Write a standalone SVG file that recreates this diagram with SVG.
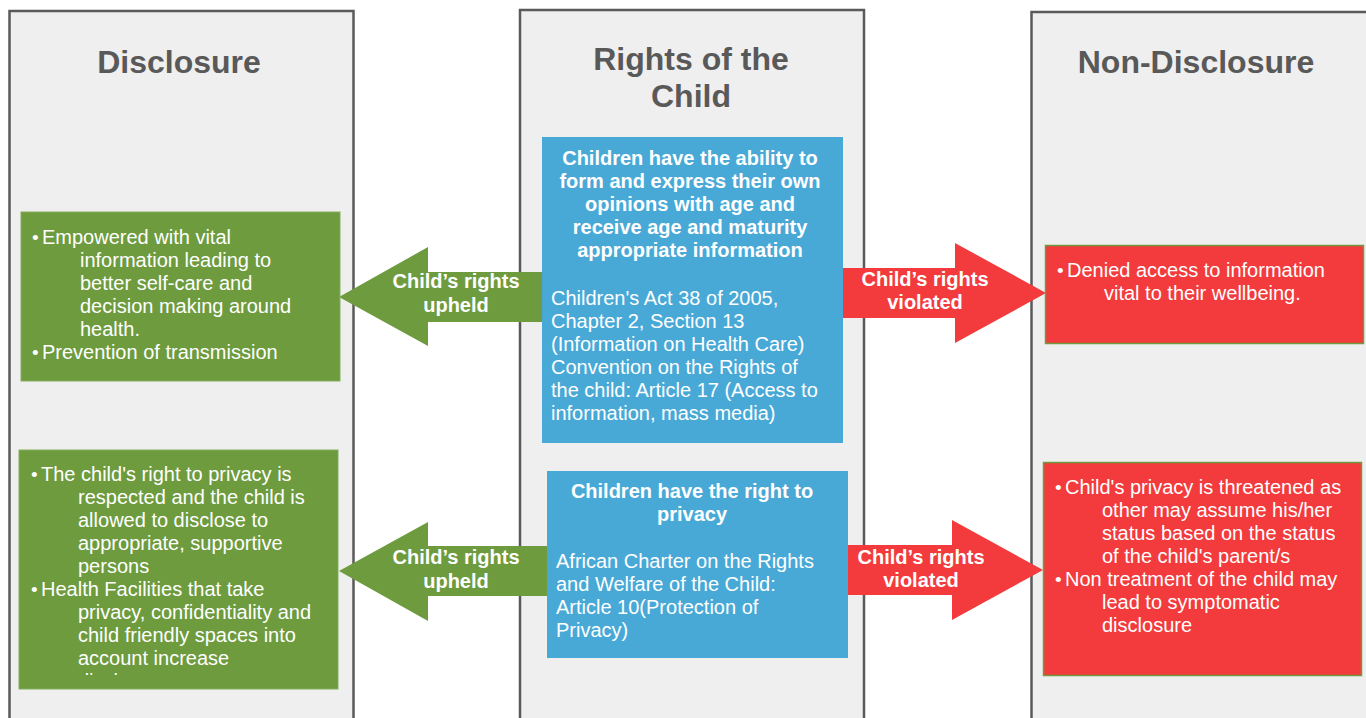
<svg xmlns="http://www.w3.org/2000/svg" width="1366" height="718" viewBox="0 0 1366 718">
<defs>
<style>
.col{fill:#efefef;stroke:#5a5a5a;stroke-width:2.5}
.title{font-family:"Liberation Sans",Arial,sans-serif;font-weight:bold;font-size:32px;fill:#595959;text-anchor:middle}
.green{fill:#6d9b3e;stroke:#85ad5c;stroke-width:1}
.blue{fill:#48a9d7}
.red{fill:#f33a3c;stroke:#6d9b3e;stroke-width:1.5}
.t{font-family:"Liberation Sans",Arial,sans-serif;font-size:20px;fill:#ffffff}
.dot{font-family:"Liberation Sans",Arial,sans-serif;font-size:19px;fill:#ffffff}
.b{font-family:"Liberation Sans",Arial,sans-serif;font-size:20px;font-weight:bold;fill:#ffffff;text-anchor:middle}
.ga{fill:#6d9b3e}
.ra{fill:#f33a3c}
</style>
<clipPath id="clipG2"><rect x="19" y="450" width="320" height="225"/></clipPath>
</defs>

<g id="col-disclosure">
<rect class="col" x="9.5" y="11" width="344" height="730"/>
<text class="title" x="179" y="73">Disclosure</text>
</g>
<g id="col-rights">
<rect class="col" x="520" y="10" width="344" height="730"/>
<text class="title" x="691" y="70">Rights of the</text>
<text class="title" x="691" y="107">Child</text>
</g>
<g id="col-nondisclosure">
<rect class="col" x="1031.5" y="12" width="360" height="730"/>
<text class="title" x="1196" y="73">Non-Disclosure</text>
</g>

<g id="connectors">
<g id="arrow-upheld-1">
<polygon class="ga" points="542,272 428,272 428,247 339,297 428,346 428,322 542,322"/>
<text class="b" x="456" y="288">Child’s rights</text>
<text class="b" x="456" y="312">upheld</text>
</g>
<g id="arrow-violated-1">
<polygon class="ra" points="843,268 955,268 955,243 1046,293 955,343 955,318 843,318"/>
<text class="b" x="925" y="286">Child’s rights</text>
<text class="b" x="925" y="309">violated</text>
</g>
<g id="arrow-upheld-2">
<polygon class="ga" points="547,546 428,546 428,522 339,571 428,621 428,596 547,596"/>
<text class="b" x="456" y="564">Child’s rights</text>
<text class="b" x="456" y="588">upheld</text>
</g>
<g id="arrow-violated-2">
<polygon class="ra" points="848,545 952,545 952,520 1043,570 952,620 952,595 848,595"/>
<text class="b" x="921" y="564">Child’s rights</text>
<text class="b" x="921" y="587">violated</text>
</g>
</g>

<g id="green-1">
<rect class="green" x="21" y="212" width="319" height="169"/>
<text class="dot" x="32" y="244">•</text>
<text class="t" x="42" y="244">Empowered with vital</text>
<text class="t" x="80" y="267">information leading to</text>
<text class="t" x="80" y="290">better self-care and</text>
<text class="t" x="80" y="313">decision making around</text>
<text class="t" x="80" y="336">health.</text>
<text class="dot" x="32" y="359">•</text>
<text class="t" x="42" y="359">Prevention of transmission</text>
</g>

<g id="green-2">
<rect class="green" x="19" y="450" width="319" height="239"/>
<g clip-path="url(#clipG2)">
<text class="dot" x="31" y="481">•</text>
<text class="t" x="41" y="481">The child's right to privacy is</text>
<text class="t" x="78" y="504">respected and the child is</text>
<text class="t" x="78" y="527">allowed to disclose to</text>
<text class="t" x="78" y="550">appropriate, supportive</text>
<text class="t" x="78" y="573">persons</text>
<text class="dot" x="31" y="596">•</text>
<text class="t" x="41" y="596">Health Facilities that take</text>
<text class="t" x="78" y="619">privacy, confidentiality and</text>
<text class="t" x="78" y="642">child friendly spaces into</text>
<text class="t" x="78" y="665">account increase</text>
<text class="t" x="78" y="688">disclosure</text>
</g>
</g>

<g id="blue-1">
<rect class="blue" x="542" y="137" width="301" height="306"/>
<text class="b" x="690" y="165">Children have the ability to</text>
<text class="b" x="690" y="188">form and express their own</text>
<text class="b" x="690" y="211">opinions with age and</text>
<text class="b" x="690" y="234">receive age and maturity</text>
<text class="b" x="690" y="257">appropriate information</text>
<text class="t" x="551" y="305">Children's Act 38 of 2005,</text>
<text class="t" x="551" y="328">Chapter 2, Section 13</text>
<text class="t" x="551" y="351">(Information on Health Care)</text>
<text class="t" x="551" y="374">Convention on the Rights of</text>
<text class="t" x="551" y="397">the child: Article 17 (Access to</text>
<text class="t" x="551" y="420">information, mass media)</text>
</g>

<g id="blue-2">
<rect class="blue" x="547" y="471" width="301" height="187"/>
<text class="b" x="692" y="498">Children have the right to</text>
<text class="b" x="692" y="521">privacy</text>
<text class="t" x="556" y="568">African Charter on the Rights</text>
<text class="t" x="556" y="591">and Welfare of the Child:</text>
<text class="t" x="556" y="614">Article 10(Protection of</text>
<text class="t" x="556" y="637">Privacy)</text>
</g>

<g id="red-1">
<rect class="red" x="1045.5" y="245.5" width="318" height="98"/>
<text class="dot" x="1057" y="277">•</text>
<text class="t" x="1067" y="277">Denied access to information</text>
<text class="t" x="1104" y="300">vital to their wellbeing.</text>
</g>

<g id="red-2">
<rect class="red" x="1043.5" y="462.5" width="318" height="213"/>
<text class="dot" x="1055" y="494">•</text>
<text class="t" x="1065" y="494">Child's privacy is threatened as</text>
<text class="t" x="1102" y="517">other may assume his/her</text>
<text class="t" x="1102" y="540">status based on the status</text>
<text class="t" x="1102" y="563">of the child's parent/s</text>
<text class="dot" x="1055" y="586">•</text>
<text class="t" x="1065" y="586">Non treatment of the child may</text>
<text class="t" x="1102" y="609">lead to symptomatic</text>
<text class="t" x="1102" y="632">disclosure</text>
</g>
</svg>
